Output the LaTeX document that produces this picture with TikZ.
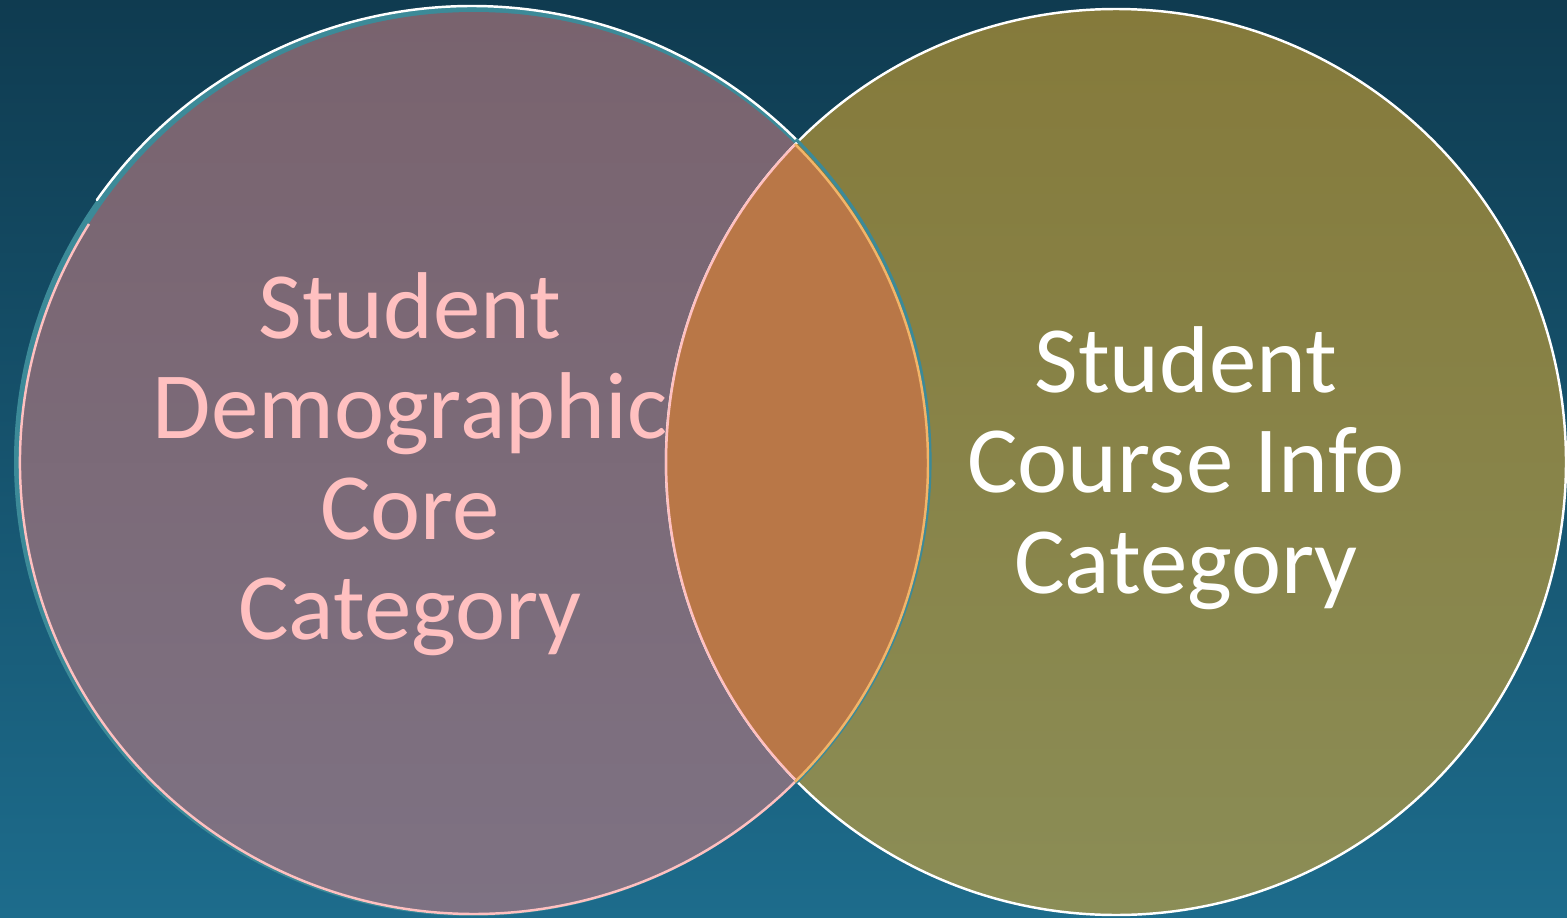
\documentclass[tikz,border=0pt]{standalone}
\usepackage{fontspec}
\setmainfont{Carlito}
\usepackage{tikz}
\usetikzlibrary{positioning,calc}

\definecolor{bgtop}{HTML}{0F3B50}
\definecolor{bgbot}{HTML}{1D6C8C}
\definecolor{demotop}{HTML}{79636E}
\definecolor{demobot}{HTML}{7E7283}
\definecolor{coursetop}{HTML}{857A3B}
\definecolor{coursebot}{HTML}{8B8D56}
\definecolor{overlap}{HTML}{B97747}
\definecolor{ringteal}{HTML}{3C8A98}
\definecolor{pinkline}{HTML}{FFC0C0}
\definecolor{goldline}{HTML}{F2B468}

\begin{document}
\begin{tikzpicture}[
  settext/.style={align=center, inner sep=0pt,
    font=\fontsize{27}{28.6}\selectfont},
  rim/.style={line width=0.7pt},
]
\useasboundingbox (0,0) rectangle (15.67,9.17);

%% ── Background ──
\shade[top color=bgtop, bottom color=bgbot] (0,0) rectangle (15.67,9.17);

%% ── Left set: Demographic ──
\fill[ringteal] (4.72,4.56) ellipse [x radius=4.58, y radius=4.55];
\draw[white, rim, line cap=round] (4.72,4.56) ++(42:4.58 and 4.55)
  arc[start angle=42, end angle=145, x radius=4.58, y radius=4.55];
\shade[top color=demotop, bottom color=demobot]
  (4.74,4.54) ellipse [x radius=4.54, y radius=4.51];
\draw[pinkline, rim] (4.74,4.54) ++(148:4.54 and 4.51)
  arc[start angle=148, end angle=315, x radius=4.54, y radius=4.51];

%% ── Right set: Course Info ──
\shade[top color=coursetop, bottom color=coursebot]
  (11.16,4.55) ellipse [x radius=4.50, y radius=4.53];
\draw[white, rim] (11.16,4.55) ellipse [x radius=4.50, y radius=4.53];

%% ── Overlap (lens) ──
\begin{scope}
  \clip (4.74,4.54) ellipse [x radius=4.54, y radius=4.51];
  \fill[overlap] (11.16,4.55) ellipse [x radius=4.50, y radius=4.53];
\end{scope}
\draw[pinkline, rim] (11.16,4.55) ++(135.5:4.50 and 4.53)
  arc[start angle=135.5, end angle=224.5, x radius=4.50, y radius=4.53];
\draw[ringteal, line width=0.9pt] (4.72,4.56) ++(-45:4.58 and 4.55)
  arc[start angle=-45, end angle=45, x radius=4.58, y radius=4.55];
\draw[goldline, rim] (4.74,4.54) ++(-45:4.54 and 4.51)
  arc[start angle=-45, end angle=45, x radius=4.54, y radius=4.51];

%% ── Labels ──
\node[settext, text=pinkline] (demo) at (4.10,4.53)
  {Student\\Demographic\\Core\\Category};
\node[settext, text=white] (course) at (11.86,4.49)
  {Student\\Course Info\\Category};
\end{tikzpicture}
\end{document}
